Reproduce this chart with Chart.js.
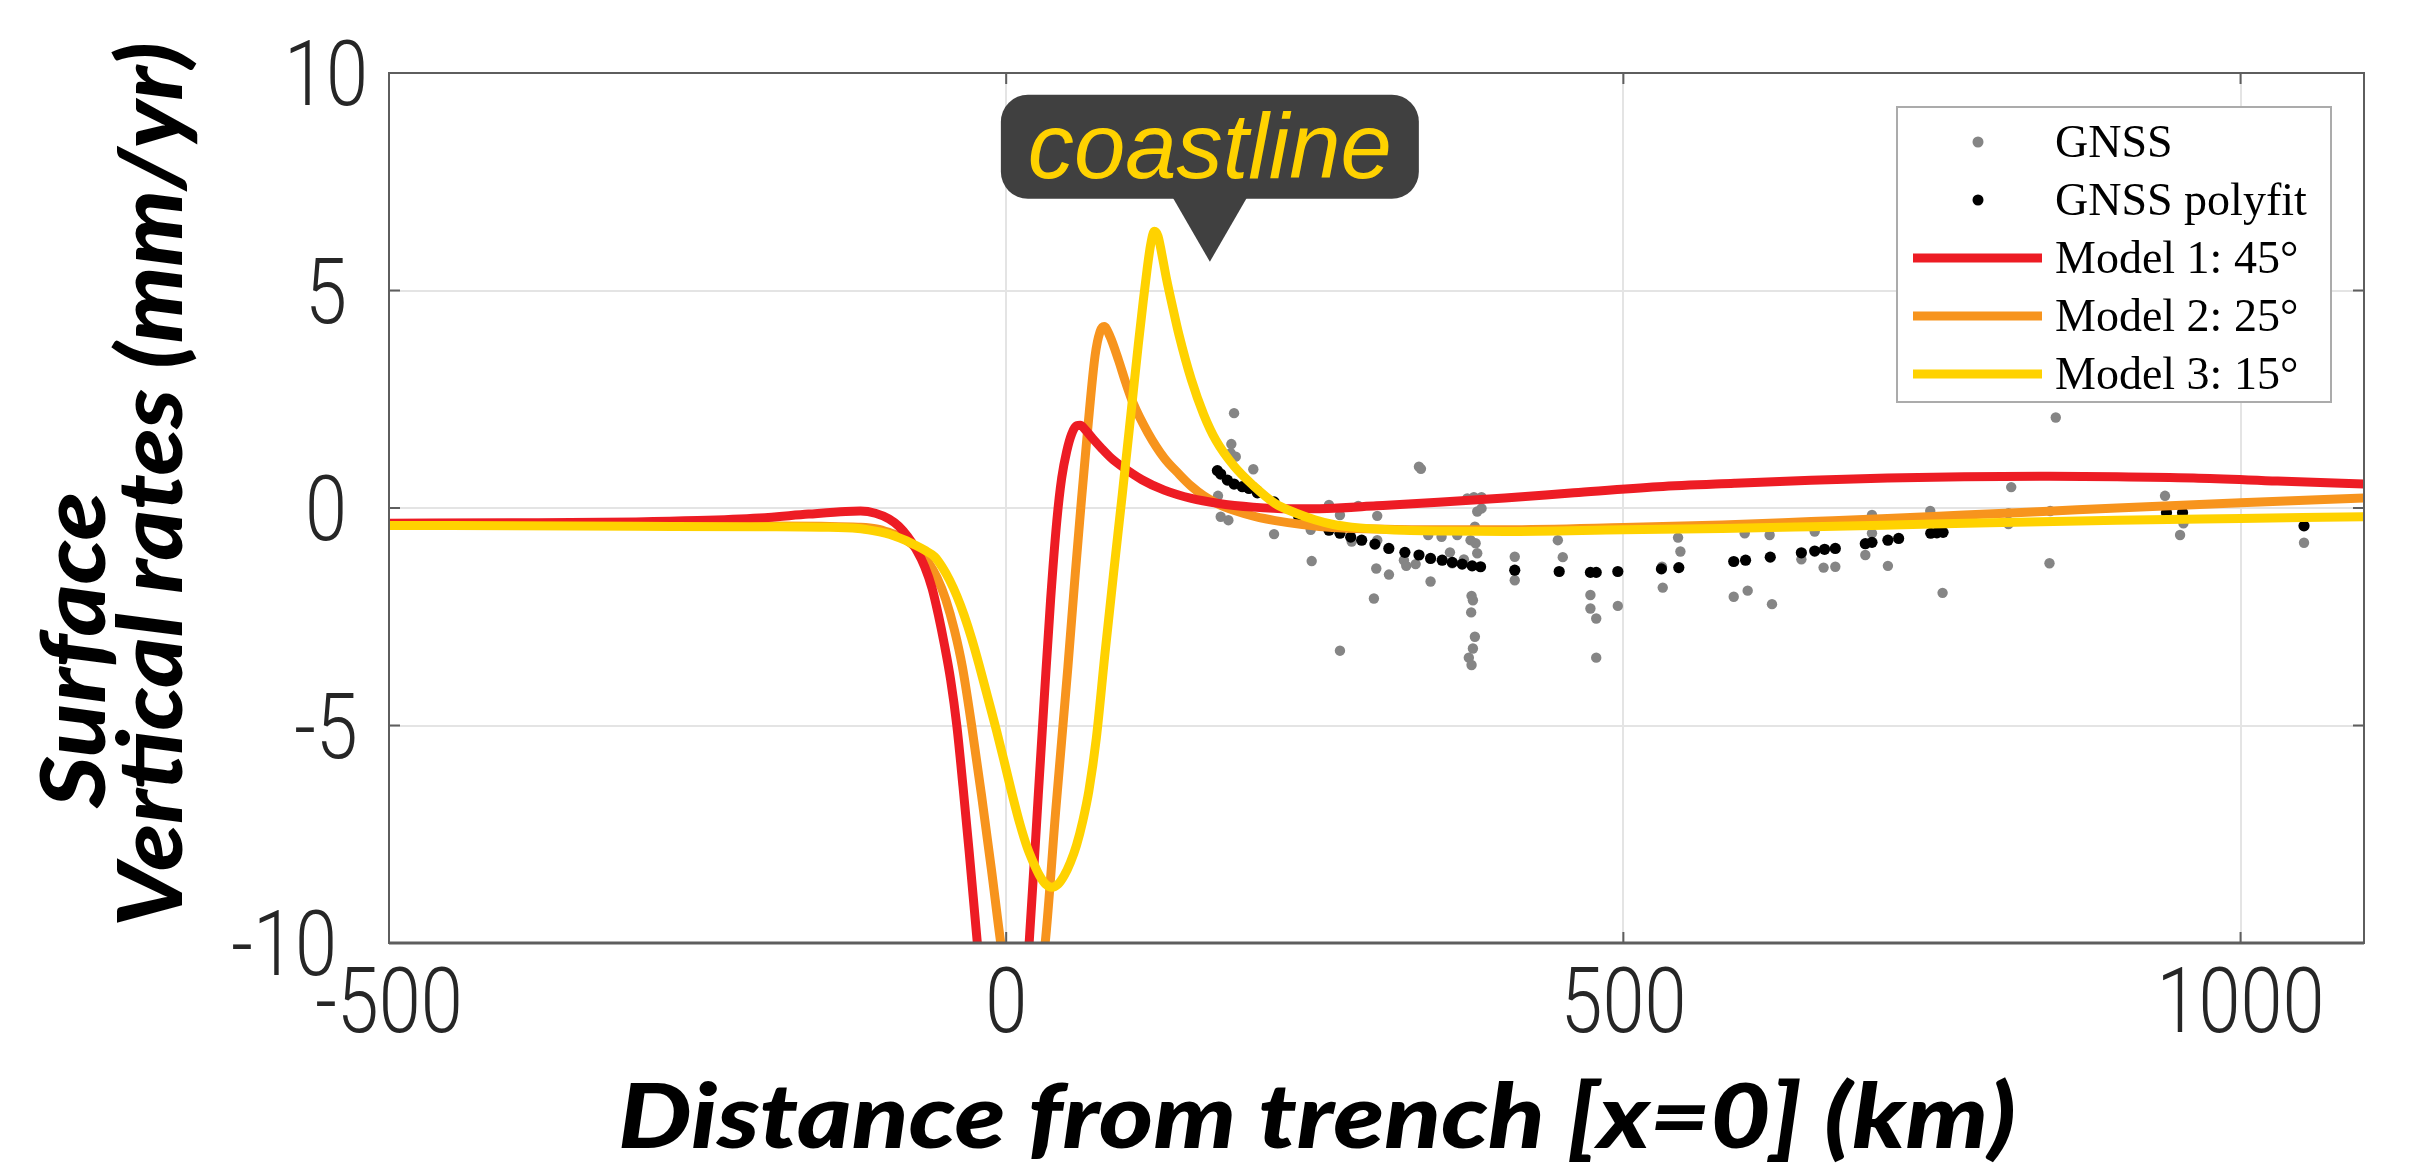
<!DOCTYPE html>
<html>
<head>
<meta charset="utf-8">
<script src="https://cdn.jsdelivr.net/npm/chart.js@4/dist/chart.umd.min.js"></script>
<style>
  html, body { margin: 0; padding: 0; background: #ffffff; }
  canvas { display: block; }
</style>
</head>
<body>
<canvas id="c" width="2422" height="1171"></canvas>
<script>
// ---------------- data ----------------
const xTicks = [-500, 0, 500, 1000];
const yTicks = [-10, -5, 0, 5, 10];
const xRange = [-500, 1100];
const yRange = [-10, 10];

const seriesLabels = ['GNSS', 'GNSS polyfit', 'Model 1: 45°', 'Model 2: 25°', 'Model 3: 15°'];

const model1X = [-500,-400,-300,-250,-200,-160,-130,-118,-106,-95,-87,-80,-73,-66,-60,-55,-50,-45,-40,-35,-30,-24,-12,-3,8,18.6,26,31,36,41,45,49,53,57,60,64,70,77,85,94,110,128,150,171,200,230,260,300,350,404,460,528,590,652,714,776,838,900,962,1030,1100];
const model1Y = [-0.35,-0.34,-0.32,-0.29,-0.23,-0.14,-0.08,-0.07,-0.12,-0.25,-0.42,-0.65,-0.95,-1.35,-1.85,-2.45,-3.15,-3.95,-5.0,-6.4,-7.9,-9.8,-13.5,-15,-13.5,-10,-6.6,-4.3,-2.1,-0.3,0.7,1.3,1.7,1.89,1.9,1.8,1.6,1.38,1.15,0.95,0.65,0.41,0.22,0.11,0.02,-0.02,-0.01,0.05,0.13,0.23,0.35,0.49,0.57,0.64,0.69,0.72,0.73,0.72,0.69,0.62,0.55];

const model2X = [-500,-400,-300,-200,-150,-120,-105,-95,-86,-77,-70,-63,-56,-49,-42,-35.5,-28,-20,-12,-4.4,8,20,31.6,40,50,56,61,66,72,76,79.4,84,91,97,103,115,128,140,150,160,171,185,202,218,240,264,300,350,404,500,580,652,714,776,840,900,1000,1100];
const model2Y = [-0.38,-0.39,-0.4,-0.41,-0.42,-0.44,-0.48,-0.56,-0.66,-0.82,-1.0,-1.25,-1.6,-2.1,-2.8,-3.65,-5.0,-6.6,-8.3,-10,-12.3,-12.3,-10,-7.0,-3.65,-1.5,0.2,1.8,3.5,4.05,4.17,3.95,3.4,2.87,2.4,1.72,1.15,0.78,0.5,0.28,0.1,-0.06,-0.2,-0.29,-0.38,-0.45,-0.48,-0.5,-0.5,-0.45,-0.39,-0.31,-0.24,-0.16,-0.08,0.0,0.12,0.23];

const model3X = [-500,-400,-300,-200,-150,-120,-108,-98,-90,-82,-74,-66,-58,-52,-46,-40,-34,-28,-22,-15,-8,-1,5,11,17,22,27,32,37,42,47,52,57,62,67,73,80,87,94,101,107,111,114,117,120,123,126,130,135,140,150,160,170,185,200,218,235,250,265,280,311,360,404,500,580,652,750,900,1000,1100];
const model3Y = [-0.4,-0.41,-0.42,-0.43,-0.44,-0.47,-0.52,-0.58,-0.65,-0.74,-0.85,-0.97,-1.12,-1.35,-1.65,-2.02,-2.47,-3.0,-3.6,-4.35,-5.1,-5.9,-6.6,-7.25,-7.8,-8.15,-8.45,-8.65,-8.72,-8.65,-8.45,-8.15,-7.75,-7.2,-6.5,-5.3,-3.35,-1.5,0.3,2.15,3.75,4.75,5.45,6.05,6.36,6.25,5.85,5.25,4.6,3.98,2.95,2.15,1.55,0.95,0.52,0.1,-0.12,-0.27,-0.38,-0.44,-0.5,-0.53,-0.54,-0.5,-0.47,-0.43,-0.37,-0.28,-0.24,-0.2];

const gnssX = [184.6,182.4,181.9,186,200.2,171.6,173.8,180,203.5,217,247.5,261.5,270.4,246.7,270.4,279.9,285.2,300.6,300.6,299.8,310.1,297.9,334.4,336,322.2,324.1,331.7,343.8,341.9,352.7,359.5,361.4,365.4,370.8,373.5,378.9,385.1,381.6,385.1,379.7,376.2,380.3,381.6,377,378.1,376.7,379.7,378.1,374.8,377,412,412,446.9,450.9,473.3,473.3,478,478,495.5,544.3,546.2,531.3,531.9,598.3,589.4,600.7,618.5,620.4,644.2,655,662.2,671.7,696,701.4,701.4,714.3,748.6,758.6,850.3,814.2,812,812,845.8,845.2,938.8,953.7,951,1051.4];
const gnssY = [2.18,1.47,1.26,1.18,0.89,0.28,-0.2,-0.28,0.41,-0.6,-1.22,0.07,-0.16,-0.5,-3.28,-0.77,0.05,-0.18,-0.74,-1.39,-1.53,-2.08,0.95,0.9,-1.2,-1.33,-1.29,-1.69,-0.62,-0.66,-1.02,-1.27,-0.62,-1.18,0.22,0.25,0.25,-0.08,-0.01,-0.43,-0.74,-0.81,-1.04,-2.02,-2.12,-2.4,-2.96,-3.23,-3.44,-3.61,-1.12,-1.66,-0.74,-1.13,-2.0,-2.31,-2.54,-3.44,-2.25,-0.68,-1.0,-1.35,-1.83,-0.58,-2.04,-1.9,-0.62,-2.21,-1.18,-0.54,-1.37,-1.35,-1.08,-0.16,-0.58,-1.33,-0.07,-1.95,2.08,0.48,-0.12,-0.37,-0.07,-1.27,0.28,-0.35,-0.62,-0.8];

const polyX = [171.1,173.8,179.2,184.6,191.3,196.7,203.5,217,237,248,261.5,270.4,279.1,288,298.7,310,323,334.4,343.8,353.2,361.4,369.4,377.5,384.3,412,448,473.3,478,495.5,530.8,544.9,589.4,599,619,644.2,655,663,671.7,696,701.4,714.3,723,749,754,759,940,953,1051.4];
const polyY = [0.86,0.78,0.64,0.55,0.49,0.45,0.35,0.14,-0.2,-0.31,-0.51,-0.58,-0.67,-0.74,-0.83,-0.93,-1.02,-1.08,-1.16,-1.2,-1.25,-1.29,-1.33,-1.35,-1.43,-1.46,-1.48,-1.48,-1.46,-1.4,-1.37,-1.23,-1.2,-1.13,-1.03,-0.99,-0.95,-0.93,-0.82,-0.79,-0.74,-0.7,-0.58,-0.57,-0.56,-0.11,-0.11,-0.41];

const calloutText = 'coastline';
const calloutAnchor = [165, 5.66];   // data point the callout's pointer touches
const xTitle = 'Distance from trench [x=0] (km)';
const yTitleLines = ['Surface', 'Vertical rates (mm/yr)'];

// ---------------- build ----------------
const pts = (xs, ys) => xs.map((x, i) => ({ x: x, y: ys[i] }));

const COLORS = {
  gnss: '#858585', poly: '#000000',
  m1: '#ED1C24', m2: '#F7941D', m3: '#FFD200'
};

const lineDs = (label, xs, ys, color, order) => ({
  type: 'line', label, data: pts(xs, ys), borderColor: color, backgroundColor: color,
  borderWidth: 9, pointRadius: 0, fill: false, cubicInterpolationMode: 'monotone',
  borderJoinStyle: 'round', order
});

const datasets = [
  { type: 'scatter', label: seriesLabels[0], data: pts(gnssX, gnssY), pointRadius: 5.2,
    pointBackgroundColor: COLORS.gnss, backgroundColor: COLORS.gnss, borderColor: COLORS.gnss, pointBorderWidth: 0, order: 5 },
  { type: 'scatter', label: seriesLabels[1], data: pts(polyX, polyY), pointRadius: 5.6,
    pointBackgroundColor: COLORS.poly, backgroundColor: COLORS.poly, borderColor: COLORS.poly, pointBorderWidth: 0, order: 4 },
  lineDs(seriesLabels[2], model1X, model1Y, COLORS.m1, 2),
  lineDs(seriesLabels[3], model2X, model2Y, COLORS.m2, 3),
  lineDs(seriesLabels[4], model3X, model3Y, COLORS.m3, 1)
];

const decor = {
  id: 'decor',
  afterDatasetsDraw(chart) {
    const ctx = chart.ctx;
    const ca = chart.chartArea;
    const xs = chart.scales.x, ys = chart.scales.y;

    // --- box and inward ticks ---
    ctx.save();
    ctx.strokeStyle = '#5e5e5e';
    ctx.lineWidth = 2;
    ctx.strokeRect(ca.left, ca.top, ca.right - ca.left, ca.bottom - ca.top);
    ctx.lineWidth = 3;
    ctx.beginPath(); ctx.moveTo(ca.left, ca.bottom); ctx.lineTo(ca.right, ca.bottom); ctx.stroke();
    ctx.lineWidth = 2;
    const tl = 11;
    ctx.beginPath();
    xTicks.forEach(v => {
      const px = xs.getPixelForValue(v);
      ctx.moveTo(px, ca.bottom); ctx.lineTo(px, ca.bottom - tl);
      ctx.moveTo(px, ca.top); ctx.lineTo(px, ca.top + tl);
    });
    yTicks.forEach(v => {
      const py = ys.getPixelForValue(v);
      ctx.moveTo(ca.left, py); ctx.lineTo(ca.left + tl, py);
      ctx.moveTo(ca.right, py); ctx.lineTo(ca.right - tl, py);
    });
    ctx.stroke();
    ctx.restore();

    // --- tick labels ---
    ctx.save();
    ctx.fillStyle = '#262626';
    ctx.font = '300 91px Roboto';
    const sx = 42 / ctx.measureText('0').width;
    const drawScaled = (txt, x, y, align) => {
      ctx.save(); ctx.translate(x, y); ctx.scale(sx, 1);
      ctx.textAlign = align; ctx.textBaseline = 'alphabetic';
      ctx.fillText(txt, 0, 0); ctx.restore();
    };
    xTicks.forEach(v => drawScaled(String(v), xs.getPixelForValue(v), ca.bottom + 89, 'center'));
    const yMin = Math.min(...yTicks);
    yTicks.forEach(v => {
      const py = ys.getPixelForValue(v) + 32;
      if (v === yMin) drawScaled(String(v), ca.left - 52, py, 'right');
      else drawScaled(String(v), ca.left - 63, py, 'center');
    });
    ctx.restore();

    // --- axis titles ---
    const fitText = (txt, font, width) => {
      ctx.font = font;
      return width / ctx.measureText(txt).width;
    };
    ctx.save();
    ctx.fillStyle = '#000000';
    const tFont = 'italic 900 90px Lato';
    let k = fitText(xTitle, tFont, 1398);
    ctx.translate(ca.left + 229, ca.bottom + 205);
    ctx.scale(k, 1);
    ctx.textAlign = 'left'; ctx.textBaseline = 'alphabetic';
    ctx.fillText(xTitle, 0, 0);
    ctx.restore();

    const yLinePos = [[105, 808, 316], [182, 927, 885]];
    yTitleLines.forEach((line, i) => {
      ctx.save();
      ctx.fillStyle = '#000000';
      const kk = fitText(line, tFont, yLinePos[i][2]);
      ctx.translate(yLinePos[i][0], yLinePos[i][1]);
      ctx.rotate(-Math.PI / 2);
      ctx.scale(kk, 1);
      ctx.textAlign = 'left'; ctx.textBaseline = 'alphabetic';
      ctx.fillText(line, 0, 0);
      ctx.restore();
    });

    // --- legend ---
    ctx.save();
    const lx0 = ca.right - 467, ly0 = ca.top + 34, lw = 434, lh = 295;
    ctx.fillStyle = '#ffffff';
    ctx.fillRect(lx0, ly0, lw, lh);
    ctx.strokeStyle = '#ababab'; ctx.lineWidth = 2;
    ctx.strokeRect(lx0, ly0, lw, lh);
    chart.data.datasets.forEach((ds, i) => {
      const cy = ly0 + 35 + i * 58;
      if (ds.type === 'scatter') {
        ctx.fillStyle = ds.pointBackgroundColor;
        ctx.beginPath(); ctx.arc(lx0 + 81, cy, 5.5, 0, Math.PI * 2); ctx.fill();
      } else {
        ctx.strokeStyle = ds.borderColor; ctx.lineWidth = 9; ctx.lineCap = 'butt';
        ctx.beginPath(); ctx.moveTo(lx0 + 16, cy); ctx.lineTo(lx0 + 145, cy); ctx.stroke();
      }
      ctx.fillStyle = '#000000';
      ctx.font = '46px "Liberation Serif"';
      ctx.textAlign = 'left'; ctx.textBaseline = 'alphabetic';
      ctx.fillText(ds.label, lx0 + 158, cy + 15);
    });
    ctx.restore();

    // --- coastline callout ---
    ctx.save();
    const ax = xs.getPixelForValue(calloutAnchor[0]);
    const ay = ys.getPixelForValue(calloutAnchor[1]);
    ctx.fillStyle = '#404040';
    ctx.beginPath();
    ctx.roundRect(ax - 209, ay - 167, 418, 104, 27);
    ctx.fill();
    ctx.beginPath();
    ctx.moveTo(ax - 37, ay - 64); ctx.lineTo(ax + 37, ay - 64); ctx.lineTo(ax, ay); ctx.closePath();
    ctx.fill();
    const ck = fitText(calloutText, 'italic 400 92px "Liberation Sans"', 364);
    ctx.fillStyle = '#FFD200';
    ctx.translate(ax - 182, ay - 84);
    ctx.scale(ck, 1);
    ctx.textAlign = 'left'; ctx.textBaseline = 'alphabetic';
    ctx.fillText(calloutText, 0, 0);
    ctx.restore();
  }
};

new Chart(document.getElementById('c').getContext('2d'), {
  data: { datasets },
  options: {
    responsive: false,
    animation: false,
    devicePixelRatio: 1,
    layout: { padding: { left: 389, right: 58, top: 73, bottom: 228 } },
    plugins: { legend: { display: false }, tooltip: { enabled: false }, title: { display: false } },
    scales: {
      x: {
        type: 'linear', min: xRange[0], max: xRange[1],
        afterBuildTicks: s => { s.ticks = xTicks.map(v => ({ value: v })); },
        ticks: { display: false },
        grid: { color: '#e4e4e4', lineWidth: 2, drawTicks: false },
        border: { display: false }
      },
      y: {
        type: 'linear', min: yRange[0], max: yRange[1],
        afterBuildTicks: s => { s.ticks = yTicks.map(v => ({ value: v })); },
        ticks: { display: false },
        grid: { color: '#e4e4e4', lineWidth: 2, drawTicks: false },
        border: { display: false }
      }
    }
  },
  plugins: [decor]
});
</script>
</body>
</html>
